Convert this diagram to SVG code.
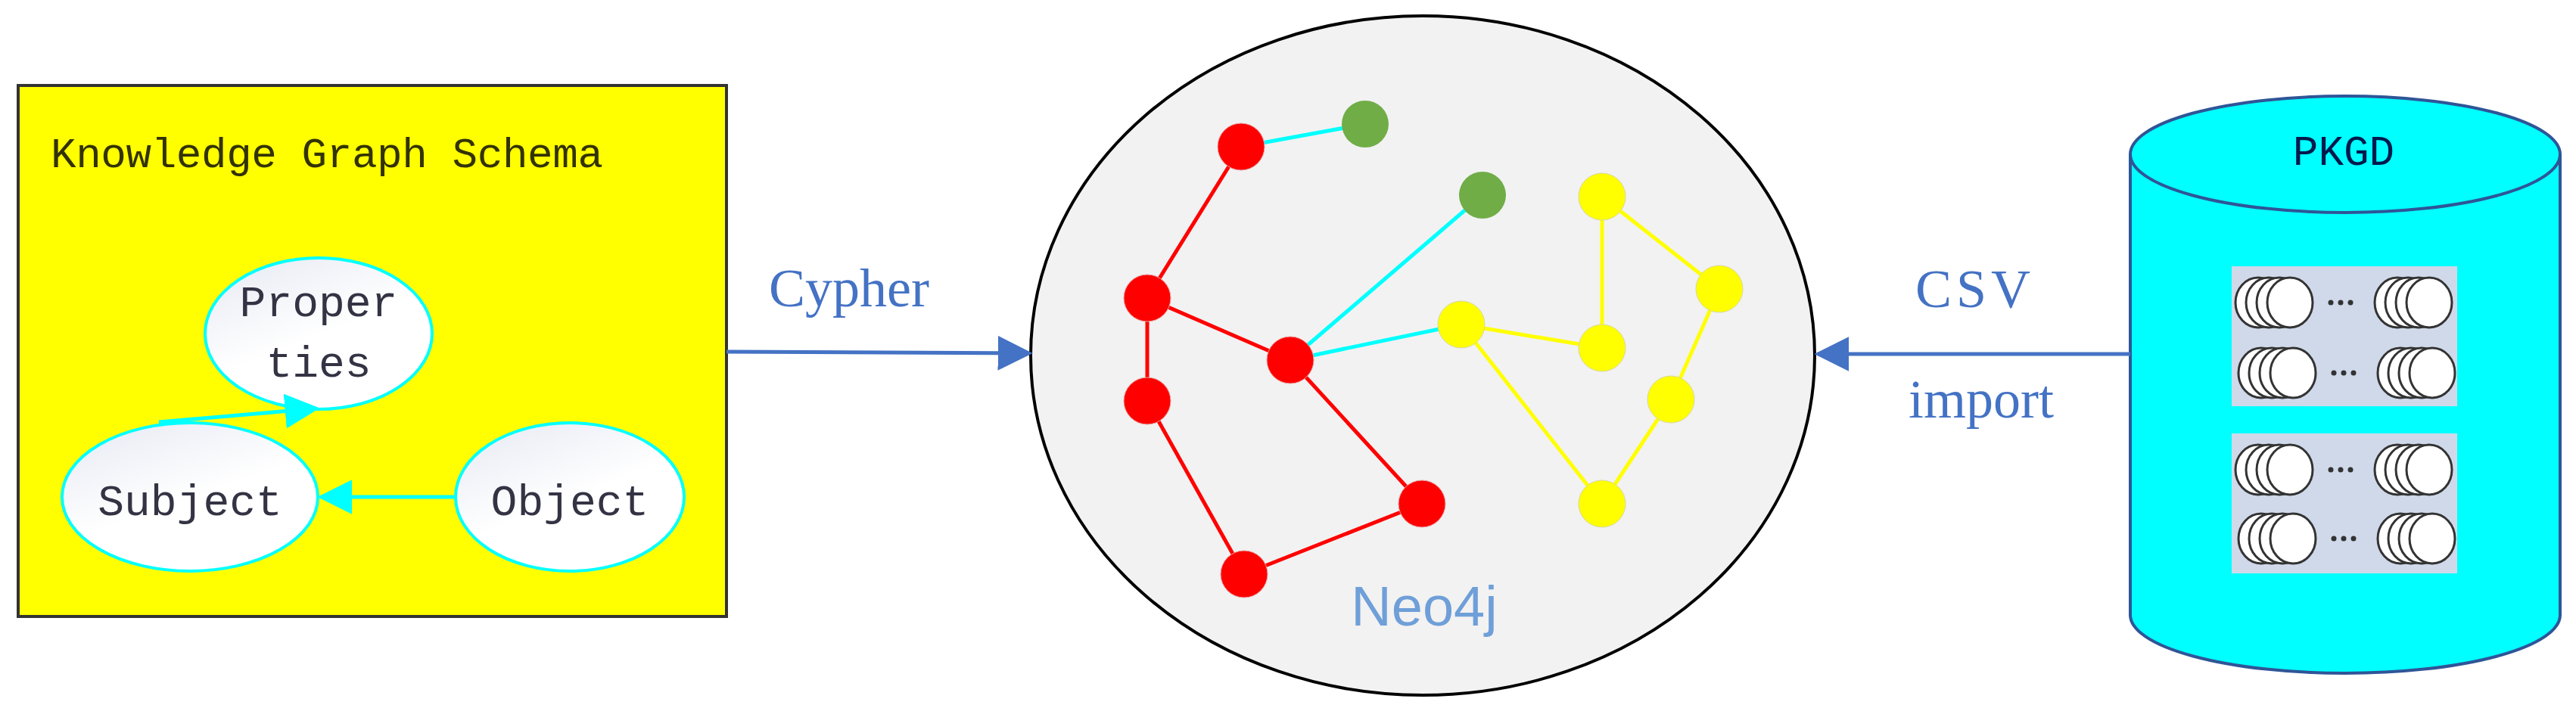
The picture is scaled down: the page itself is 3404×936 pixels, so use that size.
<svg xmlns="http://www.w3.org/2000/svg" width="3404" height="936" viewBox="0 0 3404 936">
<defs>
<linearGradient id="eg" x1="0" y1="0" x2="0.6" y2="1"><stop offset="0" stop-color="#e6e9f3"/><stop offset="0.6" stop-color="#ffffff"/></linearGradient>
<marker id="ba" viewBox="0 0 10 10" refX="9" refY="5" markerWidth="46" markerHeight="46" orient="auto" markerUnits="userSpaceOnUse"><path d="M0,0 L10,5 L0,10 z" fill="#4472c4"/></marker>
<marker id="cb" viewBox="0 0 10 10" refX="9" refY="5" markerWidth="46" markerHeight="46" orient="auto" markerUnits="userSpaceOnUse"><path d="M0,0 L10,5 L0,10 z" fill="#00ffff"/></marker>
<g id="d"><ellipse cx="2984" cy="0" rx="30" ry="33" class="disk"/><ellipse cx="2998" cy="0" rx="30" ry="33" class="disk"/><ellipse cx="3012" cy="0" rx="30" ry="33" class="disk"/><ellipse cx="3026" cy="0" rx="30" ry="33" class="disk"/>
<circle cx="3080" cy="0" r="3.5" fill="#333"/><circle cx="3093" cy="0" r="3.5" fill="#333"/><circle cx="3106" cy="0" r="3.5" fill="#333"/>
<ellipse cx="3168" cy="0" rx="30" ry="33" class="disk"/><ellipse cx="3182" cy="0" rx="30" ry="33" class="disk"/><ellipse cx="3196" cy="0" rx="30" ry="33" class="disk"/><ellipse cx="3210" cy="0" rx="30" ry="33" class="disk"/></g>
</defs>
<style>
.kg{fill:url(#eg);stroke:#00ffff;stroke-width:4}
.mono{font-family:"Liberation Mono",monospace}
.lbl{font-family:"Liberation Serif",serif;fill:#4472c4;font-size:72px}
.r{fill:#ff0000;stroke:#e8a0a0;stroke-width:1}
.y{fill:#ffff00;stroke:#d8d8a0;stroke-width:1}
.g{fill:#70ad47}
.disk{fill:#fff;stroke:#333;stroke-width:3}
</style>
<g id="schema">
<rect x="24" y="113" width="936" height="702" fill="#ffff00" stroke="#333" stroke-width="4"/>
<text x="67" y="221" class="mono" font-size="56" fill="#333300" textLength="730">Knowledge Graph Schema</text>
</g>
<g id="properties"><ellipse cx="421" cy="441" rx="150" ry="100" class="kg"/>
<text x="421" y="418" class="mono" font-size="58" fill="#333344" text-anchor="middle">Proper</text>
<text x="421" y="498" class="mono" font-size="58" fill="#333344" text-anchor="middle">ties</text></g>
<g id="subject"><ellipse cx="251" cy="657" rx="169" ry="98" class="kg"/>
<text x="251" y="681" class="mono" font-size="58" fill="#333344" text-anchor="middle">Subject</text></g>
<g id="object"><ellipse cx="753" cy="657" rx="151" ry="98" class="kg"/>
<text x="753" y="681" class="mono" font-size="58" fill="#333344" text-anchor="middle">Object</text></g>
<g id="neo4j">
<ellipse cx="1880" cy="470" rx="518" ry="449" fill="#f2f2f2" stroke="#000" stroke-width="4"/>
<g stroke-width="5" fill="none">
<g stroke="#00ffff">
<line x1="1640" y1="194" x2="1804" y2="164"/><line x1="1705" y1="476" x2="1959" y2="258"/><line x1="1705" y1="476" x2="1931" y2="429"/></g>
<g stroke="#ff0000">
<line x1="1640" y1="194" x2="1516" y2="394"/><line x1="1516" y1="394" x2="1705" y2="476"/><line x1="1516" y1="394" x2="1516" y2="530"/><line x1="1516" y1="530" x2="1644" y2="759"/><line x1="1644" y1="759" x2="1879" y2="666"/><line x1="1879" y1="666" x2="1705" y2="476"/></g>
<g stroke="#ffff00">
<line x1="1931" y1="429" x2="2117" y2="460"/><line x1="2117" y1="460" x2="2117" y2="260"/><line x1="2117" y1="260" x2="2272" y2="382"/><line x1="2272" y1="382" x2="2208" y2="528"/><line x1="2208" y1="528" x2="2117" y2="666"/><line x1="2117" y1="666" x2="1931" y2="429"/></g>
</g>
<circle cx="1804" cy="164" r="31" class="g"/><circle cx="1959" cy="258" r="31" class="g"/>
<circle cx="1640" cy="194" r="31" class="r"/><circle cx="1516" cy="394" r="31" class="r"/><circle cx="1705" cy="476" r="31" class="r"/><circle cx="1516" cy="530" r="31" class="r"/><circle cx="1879" cy="666" r="31" class="r"/><circle cx="1644" cy="759" r="31" class="r"/>
<circle cx="2117" cy="260" r="31" class="y"/><circle cx="2272" cy="382" r="31" class="y"/><circle cx="1931" cy="429" r="31" class="y"/><circle cx="2117" cy="460" r="31" class="y"/><circle cx="2208" cy="528" r="31" class="y"/><circle cx="2117" cy="666" r="31" class="y"/>
<text x="1882" y="827" font-family="Liberation Sans,sans-serif" font-size="74" fill="#6f9fd8" text-anchor="middle">Neo4j</text>
</g>
<g id="pkgd">
<path d="M2815,204 L2815,813 A284,77 0 0 0 3383,813 L3383,204" fill="#00ffff" stroke="#2f5597" stroke-width="4"/>
<ellipse cx="3099" cy="204" rx="284" ry="77" fill="#00ffff" stroke="#2f5597" stroke-width="4"/>
<text x="3097" y="218" class="mono" font-size="56" fill="#001a4d" text-anchor="middle">PKGD</text>
<rect x="2949" y="352" width="298" height="185" fill="#cfd9ea"/>
<rect x="2949" y="573" width="298" height="185" fill="#cfd9ea"/>
<g id="disk-rows">
<use href="#d" transform="translate(0,400)"/>
<use href="#d" transform="translate(4,493)"/>
<use href="#d" transform="translate(0,621)"/>
<use href="#d" transform="translate(4,712)"/>
</g>
</g>
<g id="connectors" fill="none">
<line x1="600" y1="657" x2="424" y2="657" stroke="#00ffff" stroke-width="5" marker-end="url(#cb)"/>
<line x1="210" y1="558" x2="418" y2="540" stroke="#00ffff" stroke-width="5" marker-end="url(#cb)"/>
<line x1="960" y1="465" x2="1360" y2="467" stroke="#4472c4" stroke-width="5" marker-end="url(#ba)"/>
<line x1="2815" y1="468" x2="2402" y2="468" stroke="#4472c4" stroke-width="5" marker-end="url(#ba)"/>
</g>
<text x="1016" y="405" class="lbl">Cypher</text>
<text x="2531" y="406" class="lbl" letter-spacing="6">CSV</text>
<text x="2522" y="552" class="lbl">import</text>
</svg>
